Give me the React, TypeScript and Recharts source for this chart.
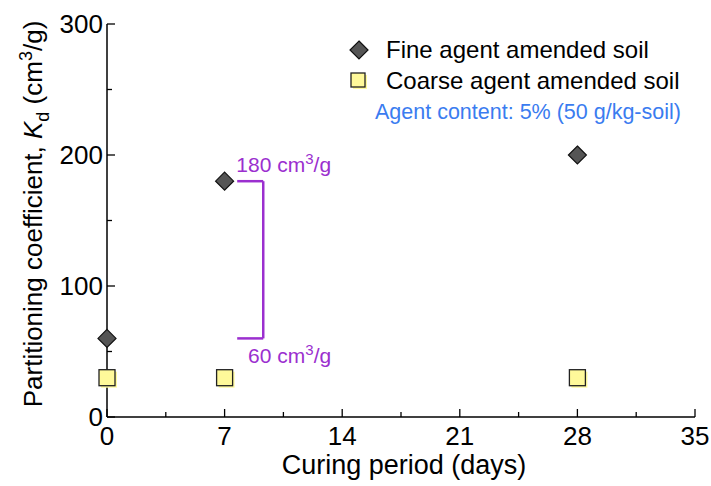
import React from 'react';
import {
  ScatterChart,
  Scatter,
  XAxis,
  YAxis,
  ReferenceLine,
  ReferenceDot,
} from 'recharts';

// curing time (days) and measured Kd (cm3/g)
const curingDays = [0, 7, 28];
const fineKd = [60, 180, 200];
const coarseKd = [30, 30, 30];

const xTicks = [0, 3.5, 7, 10.5, 14, 17.5, 21, 24.5, 28, 31.5, 35];
const yTicks = [0, 50, 100, 150, 200, 250, 300];

// bracket showing the jump between day 0 and day 7
const bracketHigh = 180;
const bracketLow = 60;
const bracketX = [7.75, 9.3];

const fineData = curingDays.map((d, i) => ({ day: d, kd: fineKd[i] }));
const coarseData = curingDays.map((d, i) => ({ day: d, kd: coarseKd[i] }));

const FONT = '"Liberation Sans", Arial, sans-serif';
const PURPLE = '#9B2FCF';
const BLUE = '#3A7CF0';
const AXIS = { stroke: '#000', strokeWidth: 1.5 };

const isMajorX = (v: number) => v % 7 === 0;
const isMajorY = (v: number) => v % 100 === 0;

const BottomTick = ({ x, y, payload }: any) => {
  const major = isMajorX(payload.value);
  return (
    <g>
      <line x1={x} x2={x} y1={y} y2={y - (major ? 8 : 5)} stroke="#000" strokeWidth={1.3} />
      {major && (
        <text x={x} y={y + 28} textAnchor="middle" fontSize={26} fill="#000" fontFamily={FONT}>
          {payload.value}
        </text>
      )}
    </g>
  );
};

const TopTick = ({ x, y, payload }: any) => (
  <line x1={x} x2={x} y1={y} y2={y + (isMajorX(payload.value) ? 8 : 5)} stroke="#000" strokeWidth={1.3} />
);

const LeftTick = ({ x, y, payload }: any) => {
  const major = isMajorY(payload.value);
  return (
    <g>
      <line x1={x} x2={x + (major ? 8 : 5)} y1={y} y2={y} stroke="#000" strokeWidth={1.3} />
      {major && (
        <text x={x - 4} y={y} dy="0.36em" textAnchor="end" fontSize={26} fill="#000" fontFamily={FONT}>
          {payload.value}
        </text>
      )}
    </g>
  );
};

const RightTick = ({ x, y, payload }: any) => (
  <line x1={x} x2={x - (isMajorY(payload.value) ? 8 : 5)} y1={y} y2={y} stroke="#000" strokeWidth={1.3} />
);

const Diamond = ({ cx, cy }: any) => (
  <polygon
    points={`${cx},${cy - 9} ${cx + 9},${cy} ${cx},${cy + 9} ${cx - 9},${cy}`}
    fill="#555555"
    stroke="#111"
    strokeWidth={1.2}
  />
);

const Square = ({ cx, cy }: any) => (
  <g>
    <rect x={cx - 6} y={cy - 6} width={16} height={16} fill="#FFFA9E" />
    <rect x={cx - 8} y={cy - 8} width={16} height={16} fill="#FFF99A" stroke="#222" strokeWidth={1.3} />
  </g>
);

const YTitle = () => (
  <text transform="translate(42,214) rotate(-90)" textAnchor="middle" fontSize={26} fill="#000" fontFamily={FONT}>
    Partitioning coefficient, <tspan fontStyle="italic">K</tspan>
    <tspan dy={7} fontSize={18}>d</tspan>
    <tspan dy={-7}> (cm</tspan>
    <tspan dy={-10} fontSize={18}>3</tspan>
    <tspan dy={10}>/g)</tspan>
  </text>
);

const XTitle = ({ viewBox }: any) => (
  <text x={viewBox.x + viewBox.width / 2 + 3} y={474} textAnchor="middle" fontSize={27} fill="#000" fontFamily={FONT}>
    Curing period (days)
  </text>
);

const unitLabel = (value: number, dy: number) => ({ viewBox }: any) => (
  <text x={viewBox.x} y={viewBox.y + dy} fontSize={21} fill={PURPLE} fontFamily={FONT}>
    {value} cm<tspan dy={-8} fontSize={15}>3</tspan>
    <tspan dy={8}>/g</tspan>
  </text>
);

const LegendBox = () => (
  <div
    style={{
      position: 'absolute',
      left: 348,
      top: 34,
      fontFamily: FONT,
      color: '#000',
      pointerEvents: 'none',
      whiteSpace: 'nowrap',
    }}
  >
    <div style={{ display: 'flex', alignItems: 'center', height: 31, fontSize: 24 }}>
      <svg width={22} height={22} style={{ marginRight: 16 }}>
        <polygon points="11,2 20,11 11,20 2,11" fill="#555555" stroke="#111" strokeWidth={1.2} />
      </svg>
      Fine agent amended soil
    </div>
    <div style={{ display: 'flex', alignItems: 'center', height: 31, fontSize: 24 }}>
      <svg width={22} height={22} style={{ marginRight: 16 }}>
        <rect x={5} y={5} width={14} height={14} fill="#FFFA9E" />
        <rect x={3} y={3} width={14} height={14} fill="#FFF99A" stroke="#222" strokeWidth={1.3} />
      </svg>
      Coarse agent amended soil
    </div>
    <div style={{ marginTop: 4, marginLeft: 27, fontSize: 21.5, color: BLUE }}>
      Agent content: 5% (50 g/kg-soil)
    </div>
  </div>
);

export default function App() {
  return (
    <div style={{ position: 'relative', width: 711, height: 486, background: '#fff' }}>
      <style>{'body{margin:0}'}</style>
      <ScatterChart
        width={711}
        height={486}
        margin={{ top: 24, right: 16, bottom: 0, left: 0 }}
        style={{ fontFamily: FONT }}
      >
        <XAxis
          dataKey="day"
          type="number"
          domain={[0, 35]}
          ticks={xTicks}
          interval={0}
          height={69}
          tickSize={0}
          tickMargin={0}
          tickLine={false}
          axisLine={AXIS}
          tick={<BottomTick />}
          label={{ content: <XTitle /> }}
        />
        <XAxis
          xAxisId="top"
          orientation="top"
          type="number"
          domain={[0, 35]}
          ticks={xTicks}
          interval={0}
          height={0}
          tickSize={0}
          tickMargin={0}
          tickLine={false}
          axisLine={AXIS}
          tick={<TopTick />}
        />
        <YAxis
          dataKey="kd"
          type="number"
          domain={[0, 300]}
          ticks={yTicks}
          interval={0}
          width={107}
          tickSize={0}
          tickMargin={0}
          tickLine={false}
          axisLine={AXIS}
          tick={<LeftTick />}
          label={{ content: <YTitle /> }}
        />
        <YAxis
          yAxisId="right"
          orientation="right"
          type="number"
          domain={[0, 300]}
          ticks={yTicks}
          interval={0}
          width={0}
          tickSize={0}
          tickMargin={0}
          tickLine={false}
          axisLine={AXIS}
          tick={<RightTick />}
        />

        <ReferenceLine
          segment={[{ x: bracketX[0], y: bracketHigh }, { x: bracketX[1], y: bracketHigh }]}
          stroke={PURPLE}
          strokeWidth={2.5}
        />
        <ReferenceLine
          segment={[{ x: bracketX[1], y: bracketHigh }, { x: bracketX[1], y: bracketLow }]}
          stroke={PURPLE}
          strokeWidth={2.5}
        />
        <ReferenceLine
          segment={[{ x: bracketX[0], y: bracketLow }, { x: bracketX[1], y: bracketLow }]}
          stroke={PURPLE}
          strokeWidth={2.5}
        />
        <ReferenceDot x={7.7} y={bracketHigh} r={0} fill="none" stroke="none" label={{ content: unitLabel(bracketHigh, -9) }} />
        <ReferenceDot x={8.4} y={bracketLow} r={0} fill="none" stroke="none" label={{ content: unitLabel(bracketLow, 25) }} />

        <Scatter name="Coarse agent amended soil" data={coarseData} shape={<Square />} isAnimationActive={false} />
        <Scatter name="Fine agent amended soil" data={fineData} shape={<Diamond />} isAnimationActive={false} />
      </ScatterChart>
      <LegendBox />
    </div>
  );
}
